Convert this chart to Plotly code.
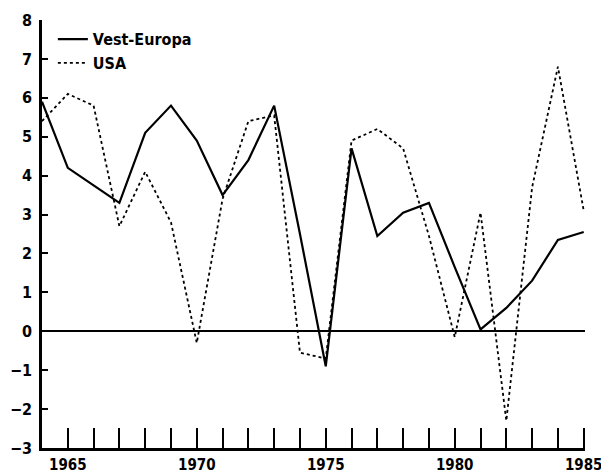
import plotly.graph_objects as go

years = list(range(1964, 1986))
vest_europa = [5.9, 4.2, 3.75, 3.3, 5.1, 5.8, 4.9, 3.5, 4.4, 5.8, 2.5, -0.9,
               4.7, 2.45, 3.05, 3.3, 1.65, 0.05, 0.6, 1.3, 2.35, 2.55]
usa = [5.4, 6.1, 5.8, 2.7, 4.1, 2.8, -0.3, 3.4, 5.4, 5.55, -0.55, -0.7,
       4.9, 5.2, 4.7, 2.45, -0.15, 3.05, -2.3, 3.7, 6.8, 3.1]
x_ticks = [1965, 1970, 1975, 1980, 1985]
y_ticks = list(range(-3, 9))

FONT = "DejaVu Sans Condensed, Liberation Sans Narrow, DejaVu Sans, sans-serif"

fig = go.Figure()
fig.add_trace(go.Scatter(x=years, y=vest_europa, mode="lines", name="Vest-Europa",
                         line=dict(color="black", width=2.2)))
fig.add_trace(go.Scatter(x=years, y=usa, mode="lines", name="USA",
                         line=dict(color="black", width=1.8, dash="dot")))

fig.update_layout(
    width=609, height=475,
    margin=dict(l=34, r=32, t=12, b=35),
    paper_bgcolor="white", plot_bgcolor="white",
    font=dict(family=FONT, size=16, color="black", weight="bold"),
    showlegend=True,
    legend=dict(x=0.02, y=0.995, xanchor="left", yanchor="top",
                bgcolor="rgba(0,0,0,0)", tracegroupgap=0,
                font=dict(family=FONT, size=16, color="black", weight="bold"),
                itemwidth=30),
)
fig.update_xaxes(
    range=[1964, 1985.05], tickvals=x_ticks, ticks="inside", ticklen=20,
    tickwidth=1.5, tickcolor="black",
    minor=dict(dtick=1, tick0=1964, ticks="inside", ticklen=20, tickwidth=1.5, tickcolor="black"),
    showline=True, linecolor="black", linewidth=2.5, showgrid=False, zeroline=False,
    tickfont=dict(family=FONT, size=15, color="black", weight="bold"),
    ticklabelstandoff=1, automargin=False,
)
fig.update_yaxes(
    range=[-3, 8], tickvals=y_ticks, ticks="inside", ticklen=6, tickwidth=2,
    tickcolor="black", showline=True, linecolor="black", linewidth=2.5,
    showgrid=False, zeroline=True, zerolinecolor="black", zerolinewidth=2.2,
    tickfont=dict(family=FONT, size=16, color="black", weight="bold"),
    ticklabelstandoff=4, automargin=False,
)

fig.write_html("out.html")
